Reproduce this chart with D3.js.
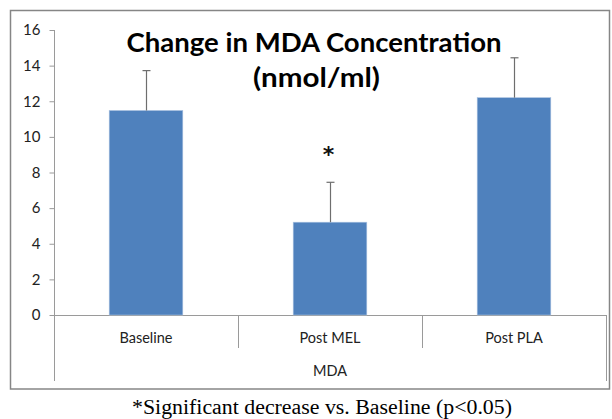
<!DOCTYPE html>
<html><head><meta charset="utf-8">
<script src="https://cdn.jsdelivr.net/npm/d3@7"></script>
<style>body{margin:0;background:#fff}svg{display:block}</style>
</head><body>
<script>
const categories = ["Baseline", "Post MEL", "Post PLA"];
const groupLabel = "MDA";
const values = [11.48, 5.21, 12.2];
const errors = [2.24, 2.24, 2.24];
const yTicks = [0, 2, 4, 6, 8, 10, 12, 14, 16];
const significant = [false, true, false];
const titleLines = ["Change in MDA Concentration", "(nmol/ml)"];
const footnote = "*Significant decrease vs. Baseline (p<0.05)";

(function () {
const W = 612, H = 419;
const svg = d3.select("body").append("svg").attr("width", W).attr("height", H);
const sans = "Lato, 'Open Sans', sans-serif";

// outer chart border
svg.append("rect").attr("x", 10.5).attr("y", 10.5).attr("width", 599).attr("height", 378.5)
  .attr("fill", "#fff").attr("stroke", "#868686").attr("stroke-width", 1.5);

const mLeft = 54, mRight = 606, mTop = 30, mBottom = 315, axisBottom = 381;
const y = d3.scaleLinear().domain([0, 16]).range([mBottom, mTop]);
const x = d3.scaleBand().domain(categories).range([mLeft, mRight]).paddingInner(0.6).paddingOuter(0.3);
const xg = d3.scaleBand().domain(categories).range([mLeft, mRight]).padding(0);

// y axis
const yAxis = d3.axisLeft(y).tickValues(yTicks).tickSize(5).tickPadding(9).tickFormat(d3.format("d"));
const ya = svg.append("g").attr("transform", `translate(${mLeft + 0.5},0)`).call(yAxis);
ya.select(".domain").remove();
ya.selectAll(".tick line").attr("stroke", "#9a9a9a");
ya.selectAll(".tick text").attr("font-family", sans).attr("font-size", 15).attr("fill", "#222");
svg.append("line").attr("x1", mLeft + 0.5).attr("x2", mLeft + 0.5).attr("y1", mTop).attr("y2", axisBottom)
  .attr("stroke", "#9a9a9a");

// x axis baseline
svg.append("line").attr("x1", mLeft).attr("x2", mRight).attr("y1", mBottom + 0.5).attr("y2", mBottom + 0.5)
  .attr("stroke", "#9a9a9a");
// category dividers
categories.slice(1).forEach(c => {
  svg.append("line").attr("x1", xg(c) + 0.5).attr("x2", xg(c) + 0.5).attr("y1", mBottom).attr("y2", 348)
    .attr("stroke", "#9a9a9a");
});
svg.append("line").attr("x1", mRight + 0.5).attr("x2", mRight + 0.5).attr("y1", mBottom).attr("y2", axisBottom)
  .attr("stroke", "#9a9a9a");

// category labels
svg.selectAll(".cat").data(categories).enter().append("text")
  .attr("x", d => xg(d) + xg.bandwidth() / 2).attr("y", 343)
  .attr("text-anchor", "middle").attr("font-family", sans)
  .attr("font-size", 14.5).attr("fill", "#222").text(d => d);
svg.append("text").attr("x", (mLeft + mRight) / 2).attr("y", 375.5).attr("text-anchor", "middle")
  .attr("font-family", sans).attr("font-size", 14.5).attr("fill", "#222").text(groupLabel);

// bars
svg.selectAll(".bar").data(values).enter().append("rect")
  .attr("x", (d, i) => x(categories[i])).attr("width", x.bandwidth())
  .attr("y", d => y(d)).attr("height", d => y(0) - y(d))
  .attr("fill", "#4F81BD").attr("stroke", "#a9c1e0").attr("stroke-width", 0.6);

// error bars
values.forEach((v, i) => {
  const cx = Math.round(x(categories[i]) + x.bandwidth() / 2) + 0.5;
  svg.append("line").attr("x1", cx).attr("x2", cx).attr("y1", y(v)).attr("y2", y(v + errors[i]))
    .attr("stroke", "#6e6e6e").attr("stroke-width", 1.2);
  svg.append("line").attr("x1", cx - 4).attr("x2", cx + 4).attr("y1", y(v + errors[i])).attr("y2", y(v + errors[i]))
    .attr("stroke", "#6e6e6e").attr("stroke-width", 1.2);
  if (significant[i]) {
    svg.append("text").attr("x", cx - 2).attr("y", y(v + errors[i]) - 20)
      .attr("text-anchor", "middle").attr("font-family", "'DejaVu Sans', sans-serif").attr("font-weight", "bold")
      .attr("font-size", 22).attr("fill", "#111").text("*");
  }
});

// title
svg.append("text").attr("x", 314).attr("y", 52).attr("text-anchor", "middle")
  .attr("font-family", sans).attr("font-weight", "bold").attr("font-size", 26.5)
  .attr("fill", "#000").attr("textLength", 375).attr("lengthAdjust", "spacingAndGlyphs").text(titleLines[0]);
svg.append("text").attr("x", 316.5).attr("y", 87).attr("text-anchor", "middle")
  .attr("font-family", sans).attr("font-weight", "bold").attr("font-size", 26.5)
  .attr("fill", "#000").attr("textLength", 127).attr("lengthAdjust", "spacingAndGlyphs").text(titleLines[1]);

// footnote
svg.append("text").attr("x", 322).attr("y", 414).attr("text-anchor", "middle")
  .attr("font-family", "'Liberation Serif', 'Times New Roman', serif").attr("font-size", 20)
  .attr("fill", "#000").attr("textLength", 380).attr("lengthAdjust", "spacingAndGlyphs").text(footnote);
})();
</script>
</body></html>
